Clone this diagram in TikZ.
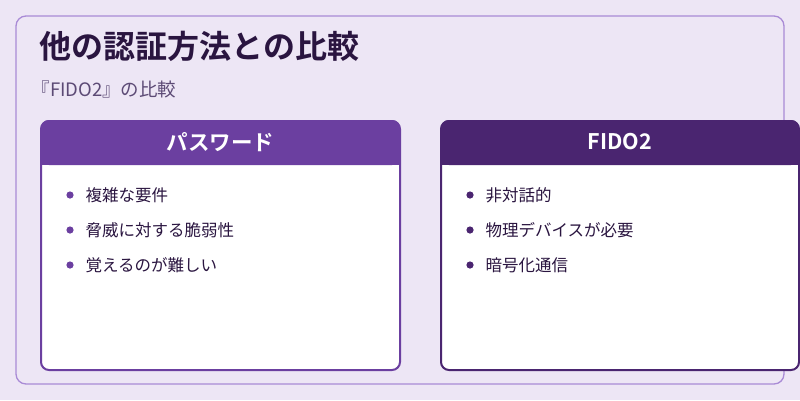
\documentclass[tikz,border=0pt]{standalone}
\usepackage{fontspec}
\setmainfont{Noto Sans CJK JP}
\newfontfamily\jpbold{Noto Sans CJK JP Bold}
\usetikzlibrary{positioning}
\definecolor{pagebg}{HTML}{EDE6F5}
\definecolor{framec}{HTML}{A98BD6}
\definecolor{titlec}{HTML}{2A1540}
\definecolor{subc}{HTML}{5C4A75}
\definecolor{passc}{HTML}{6B3FA0}
\definecolor{fidoc}{HTML}{4A2570}
\begin{document}
\begin{tikzpicture}[x=1pt, y=-1pt,
    card/.style={draw=#1, line width=2pt, fill=white, rounded corners=8pt},
    head/.style={fill=#1, rounded corners=8pt},
    headtext/.style={text=white, font=\jpbold\fontsize{21.5}{25}\selectfont},
    item/.style={anchor=west, text=titlec, font=\fontsize{16.5}{19}\selectfont}
]
\fill[pagebg] (0,0) rectangle (800,400);
\useasboundingbox (0,0) rectangle (800,400);
\draw[framec, line width=1.3pt, rounded corners=10pt] (16,16) rectangle (784,384);
\node[anchor=west, text=titlec, font=\jpbold\fontsize{32}{36}\selectfont] (title) at (36,46) {他の認証方法との比較};
\node[anchor=west, text=subc, font=\fontsize{18.5}{21}\selectfont] (sub) at (28,89) {『FIDO2』の比較};
% password card
\draw[card=passc] (41,121) rectangle (400,370);
\fill[head=passc] (41,120) rectangle (400,165);
\fill[passc] (41,150) rectangle (400,165);
\node[headtext] (passh) at (220.5,142) {パスワード};
\foreach \t [count=\i] in {複雑な要件, 脅威に対する脆弱性, 覚えるのが難しい} {
  \fill[passc] (70,{160+35*\i}) circle (3.6pt);
  \node[item] (p\i) at (82,{160+35*\i}) {\t};
}
% fido card
\draw[card=fidoc] (441,121) rectangle (799,370);
\fill[head=fidoc] (441,120) rectangle (799,165);
\fill[fidoc] (441,150) rectangle (799,165);
\node[headtext] (fidoh) at (620,142) {FIDO2};
\foreach \t [count=\i] in {非対話的, 物理デバイスが必要, 暗号化通信} {
  \fill[fidoc] (470,{160+35*\i}) circle (3.6pt);
  \node[item] (f\i) at (482,{160+35*\i}) {\t};
}
\end{tikzpicture}
\end{document}
